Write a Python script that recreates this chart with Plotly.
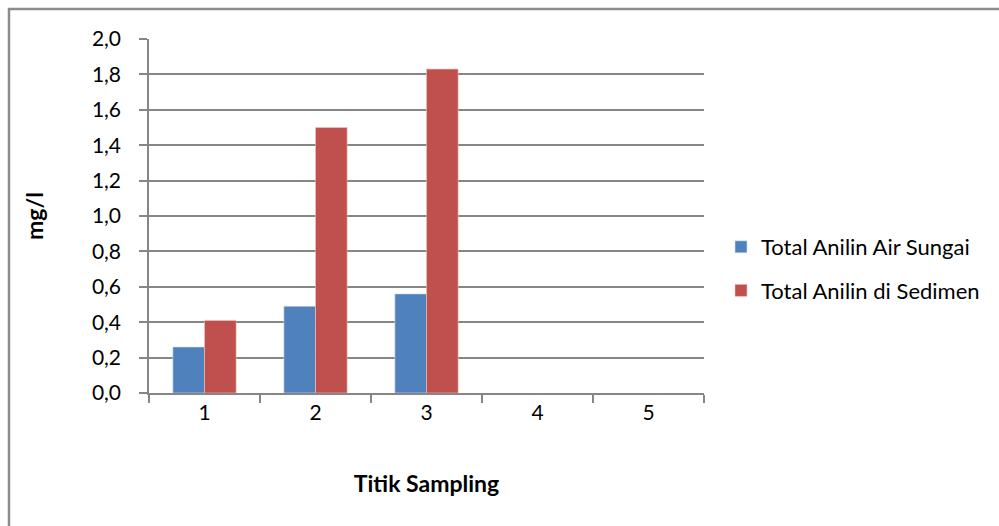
import plotly.graph_objects as go

# Sampling points and measured aniline totals (mg/l)
titik = ["1", "2", "3", "4", "5"]
air_sungai = [0.26, 0.49, 0.56, None, None]
sedimen = [0.41, 1.50, 1.83, None, None]
nama_air = "Total Anilin Air Sungai"
nama_sedimen = "Total Anilin di Sedimen"

W, H = 999, 526
L, R, T, B = 149, 295, 39, 133
pw, ph = W - L - R, H - T - B

grid_col = "#868686"
font_main = "Lato, 'Open Sans', sans-serif"
fs_tick, fs_leg, fs_title = 21, 22, 23

fig = go.Figure()
fig.add_trace(go.Bar(x=titik, y=air_sungai, name=nama_air,
                     marker=dict(color="#4F81BD", line=dict(color="#D6E0EE", width=0.6)),
                     legendgroup="a"))
fig.add_trace(go.Bar(x=titik, y=sedimen, name=nama_sedimen,
                     marker=dict(color="#C0504D", line=dict(color="#EBC4C3", width=0.6)),
                     legendgroup="b"))

# outer chart frame, running off the right and bottom edges
def px_x(v):
    return (v - L) / pw

def px_y(v):
    return (H - B - v) / ph

fig.add_shape(type="rect", xref="paper", yref="paper",
              x0=px_x(9), x1=px_x(1010), y0=px_y(9), y1=px_y(540),
              line=dict(color="#8C8C8C", width=2.5), fillcolor="rgba(0,0,0,0)")

fig.update_layout(
    width=W, height=H,
    margin=dict(l=L, r=R, t=T, b=B),
    paper_bgcolor="white", plot_bgcolor="white",
    separators=",.",
    barmode="group", bargap=0.43, bargroupgap=0,
    font=dict(family=font_main, size=fs_tick, color="#000000"),
    showlegend=True,
    legend=dict(x=px_x(721), y=px_y(226), xanchor="left", yanchor="top",
                font=dict(size=fs_leg), tracegroupgap=12,
                bgcolor="rgba(0,0,0,0)"),
    xaxis=dict(
        type="category",
        showline=True, linecolor=grid_col, linewidth=1.5,
        ticks="outside", tickson="boundaries", ticklen=8, tickcolor=grid_col, tickwidth=1.5,
        showgrid=False,
        tickfont=dict(size=fs_tick),
        title=dict(text="<b>Titik Sampling</b>", font=dict(size=fs_title), standoff=53),
    ),
    yaxis=dict(
        range=[0, 2.0], dtick=0.2, tickformat=".1f",
        showline=True, linecolor=grid_col, linewidth=1.5,
        showgrid=True, gridcolor=grid_col, gridwidth=1.5,
        ticks="outside", ticklen=8, tickcolor=grid_col, tickwidth=1.5,
        ticklabelstandoff=14,
        tickfont=dict(size=fs_tick),
        zeroline=False,
        title=dict(text="<b>mg/l</b>", font=dict(size=fs_title), standoff=42),
    ),
)

fig.write_html("out.html")
